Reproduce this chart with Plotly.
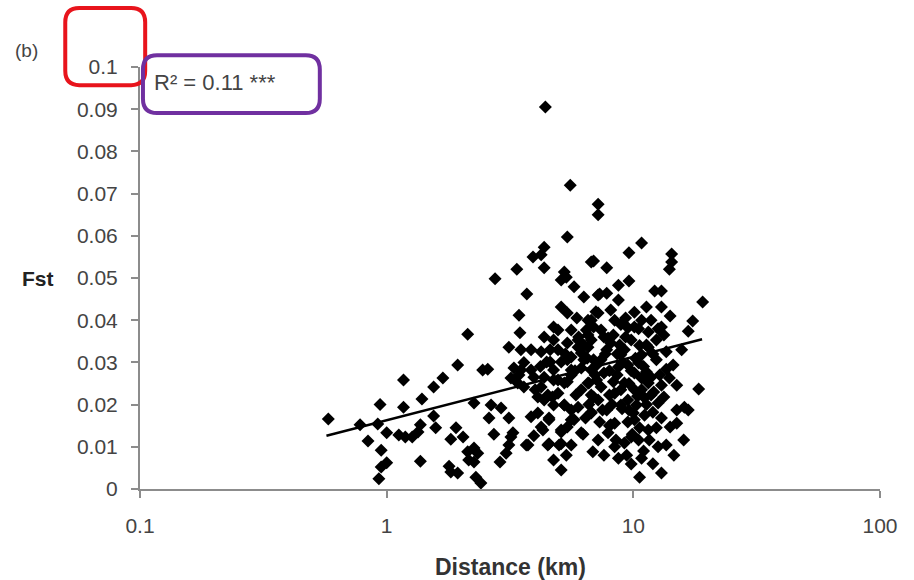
import numpy as np
import plotly.graph_objects as go

# Distance (km) and Fst values
distance_km = [
    0.58, 0.78, 0.94, 0.92, 0.84, 1.0, 0.95, 1.0, 0.95, 0.93,
    1.17, 1.17, 1.12, 1.19, 1.27, 1.34, 1.37, 1.39, 1.55, 1.69,
    1.94, 2.13, 1.55, 1.58, 1.37, 1.79, 1.82, 1.94, 1.91, 1.82,
    2.04, 2.13, 2.15,
    2.45, 2.57, 2.26, 2.65, 2.91, 2.6, 3.13, 2.72, 3.19, 3.13,
    2.26, 2.34, 2.26, 3.05, 2.88, 2.41, 2.3, 3.74, 3.95, 3.85,
    4.1, 4.5, 5.0, 5.6, 6.25, 5.1, 5.4, 5.75, 4.55, 4.3,
    3.44, 3.47, 3.7, 3.13, 3.5, 3.85, 4.23, 3.28, 3.5, 3.19,
    3.4, 3.95, 4.23, 4.1, 4.75, 5.25, 4.95, 5.25, 5.97, 6.75,
    5.1, 5.4, 6.3, 5.75, 7.2, 4.75, 4.95, 5.4, 5.6, 5.97,
    6.3, 6.75, 6.6, 6.15, 6.9, 5.6, 6.9, 6.75, 7.2,
    4.4, 5.55, 5.4, 4.35, 3.92, 4.23, 3.37, 4.35, 2.75, 5.25,
    5.1, 5.35, 6.75,
    7.2, 7.2, 10.8, 9.6, 6.9, 7.8, 14.3, 14.3, 14.0, 9.6,
    8.7, 7.3, 7.8, 8.7, 12.2, 13.0, 19.1, 11.3, 13.0, 14.1,
    17.4, 16.7, 7.05, 8.1, 8.4, 6.55, 10.8, 10.1, 9.5, 11.5,
    13.0, 13.3, 7.4, 6.55, 7.9,
    10.6, 13.0, 9.8, 8.7, 8.4, 12.6, 14.1, 15.0, 18.4, 15.0,
    16.1, 16.7, 13.6, 12.0, 12.6, 13.3, 11.1, 10.8, 11.5, 11.8,
    10.1, 9.5, 10.1, 10.6, 11.5, 9.8, 10.5, 7.9, 8.4, 7.8,
    6.75, 9.2, 8.9, 9.5, 8.4, 7.4, 7.2, 9.2, 6.55, 7.6,
    8.7, 6.9, 6.55, 9.2, 10.8, 11.5, 8.1,
    4.35, 4.75, 4.6, 5.4, 5.97, 6.15, 3.44, 3.85, 3.6, 4.0,
    4.35, 4.95, 5.4, 4.35, 4.7, 5.25, 4.55, 5.6, 5.1, 4.23,
    3.68, 4.55, 5.1, 6.15, 3.25,
    8.9, 9.5, 8.6, 10.5, 11.3, 12.4, 7.8, 7.1, 8.0, 10.3,
    11.8, 8.9, 9.6, 6.75, 5.85, 11.1, 13.0, 14.0, 14.5, 15.7,
    11.3, 9.8, 5.6, 6.45, 4.95, 4.5, 4.75, 4.45, 7.3, 8.1,
    7.2, 6.85, 7.6, 8.5, 9.4, 10.8, 11.6, 12.4, 13.6, 16.0,
    14.6,
    5.9, 6.3, 6.75, 7.4, 8.3, 8.8, 9.3, 10.1, 11.8, 12.4,
    13.6, 8.3, 10.1, 10.8, 7.5, 6.4, 5.6, 13.0, 15.0, 7.1,
    6.15, 5.6, 5.1, 4.75, 5.35, 4.75, 5.1,
    9.0, 9.8, 10.2, 8.6, 9.3, 10.6, 8.0, 7.7, 9.6, 10.4,
    11.0, 12.0, 12.8, 8.2, 9.0, 10.0, 11.3, 12.1, 7.0, 6.5,
    6.0, 5.8, 7.6, 8.9, 10.5, 12.6, 9.9, 11.0, 12.0, 8.0,
    6.6, 5.3, 4.2, 3.6, 4.6,
]
fst = [
    0.0166, 0.0152, 0.0200, 0.0154, 0.0114, 0.0133, 0.0092, 0.0062, 0.0052, 0.0024,
    0.0258, 0.0194, 0.0128, 0.0123, 0.0123, 0.0135, 0.0152, 0.0213, 0.0242, 0.0263,
    0.0294, 0.0367, 0.0173, 0.0145, 0.0066, 0.0054, 0.0040, 0.0038, 0.0145, 0.0118,
    0.0123, 0.0088, 0.0069,
    0.0282, 0.0284, 0.0204, 0.0199, 0.0192, 0.0168, 0.0168, 0.0130, 0.0123, 0.0104,
    0.0097, 0.0085, 0.0064, 0.0085, 0.0064, 0.0014, 0.0028, 0.0104, 0.0126, 0.0171,
    0.0180, 0.0104, 0.0104, 0.0104, 0.0130, 0.0135, 0.0147, 0.0164, 0.0164, 0.0140,
    0.0412, 0.0370, 0.0462, 0.0336, 0.0330, 0.0330, 0.0325, 0.0287, 0.0282, 0.0263,
    0.0251, 0.0265, 0.0242, 0.0218, 0.0258, 0.0251, 0.0227, 0.0199, 0.0194, 0.0180,
    0.0431, 0.0417, 0.0455, 0.0479, 0.0460, 0.0353, 0.0377, 0.0346, 0.0313, 0.0336,
    0.0306, 0.0282, 0.0251, 0.0235, 0.0218, 0.0282, 0.0384, 0.0400, 0.0417,
    0.0905, 0.0720, 0.0597, 0.0573, 0.0550, 0.0555, 0.0521, 0.0524, 0.0498, 0.0514,
    0.0495, 0.0502, 0.0538,
    0.0675, 0.0650, 0.0583, 0.0560, 0.0540, 0.0524, 0.0557, 0.0538, 0.0521, 0.0493,
    0.0483, 0.0462, 0.0464, 0.0448, 0.0469, 0.0469, 0.0443, 0.0431, 0.0431, 0.0410,
    0.0398, 0.0374, 0.0420, 0.0424, 0.0400, 0.0400, 0.0400, 0.0384, 0.0382, 0.0372,
    0.0384, 0.0365, 0.0377, 0.0365, 0.0358,
    0.0028, 0.0038, 0.0059, 0.0073, 0.0100, 0.0100, 0.0147, 0.0156, 0.0237, 0.0246,
    0.0194, 0.0187, 0.0284, 0.0182, 0.0204, 0.0218, 0.0216, 0.0235, 0.0251, 0.0265,
    0.0275, 0.0159, 0.0164, 0.0145, 0.0140, 0.0123, 0.0116, 0.0133, 0.0156, 0.0187,
    0.0182, 0.0109, 0.0199, 0.0211, 0.0227, 0.0242, 0.0211, 0.0251, 0.0251, 0.0275,
    0.0289, 0.0306, 0.0336, 0.0330, 0.0318, 0.0336, 0.0346,
    0.0360, 0.0384, 0.0301, 0.0306, 0.0353, 0.0322, 0.0270, 0.0282, 0.0242, 0.0235,
    0.0265, 0.0258, 0.0254, 0.0211, 0.0218, 0.0199, 0.0168, 0.0164, 0.0140, 0.0147,
    0.0104, 0.0107, 0.0107, 0.0133, 0.0133,
    0.0318, 0.0294, 0.0270, 0.0299, 0.0277, 0.0306, 0.0330, 0.0258, 0.0223, 0.0199,
    0.0223, 0.0235, 0.0187, 0.0223, 0.0223, 0.0175, 0.0246, 0.0263, 0.0294, 0.0330,
    0.0341, 0.0353, 0.0377, 0.0377, 0.0330, 0.0223, 0.0199, 0.0301, 0.0159, 0.0152,
    0.0116, 0.0088, 0.0080, 0.0116, 0.0080, 0.0073, 0.0116, 0.0145, 0.0104, 0.0116,
    0.0080,
    0.0405, 0.0341, 0.0353, 0.0306, 0.0365, 0.0341, 0.0405, 0.0419, 0.0400, 0.0353,
    0.0325, 0.0254, 0.0235, 0.0263, 0.0187, 0.0168, 0.0187, 0.0168, 0.0187, 0.0294,
    0.0287, 0.0270, 0.0301, 0.0282, 0.0080, 0.0069, 0.0045,
    0.0300, 0.0280, 0.0310, 0.0320, 0.0360, 0.0340, 0.0280, 0.0320, 0.0250, 0.0220,
    0.0290, 0.0320, 0.0270, 0.0200, 0.0190, 0.0180, 0.0200, 0.0230, 0.0270, 0.0310,
    0.0360, 0.0280, 0.0360, 0.0390, 0.0380, 0.0380, 0.0130, 0.0090, 0.0060, 0.0150,
    0.0200, 0.0320, 0.0290, 0.0300, 0.0330,
]

# Logarithmic trend line: Fst = a + b*log10(distance)
trend_intercept = 0.0163
trend_slope = 0.0150
trend_range_km = [0.57, 19.0]

y_ticks = [0, 0.01, 0.02, 0.03, 0.04, 0.05, 0.06, 0.07, 0.08, 0.09, 0.1]
y_tick_labels = ["0", "0.01", "0.02", "0.03", "0.04", "0.05", "0.06", "0.07", "0.08", "0.09", "0.1"]
x_ticks = [0.1, 1, 10, 100]
x_tick_labels = ["0.1", "1", "10", "100"]

tx = np.logspace(np.log10(trend_range_km[0]), np.log10(trend_range_km[1]), 60)
ty = trend_intercept + trend_slope * np.log10(tx)

fig = go.Figure()
fig.add_trace(go.Scatter(
    x=distance_km, y=fst, mode="markers",
    marker=dict(symbol="diamond", size=10, color="black"),
    showlegend=False, hoverinfo="skip"))
fig.add_trace(go.Scatter(
    x=tx, y=ty, mode="lines", line=dict(color="black", width=2.5),
    showlegend=False, hoverinfo="skip"))

font_family = "Liberation Sans, Arial, sans-serif"
tick_font = dict(family=font_family, size=21, color="#444444")
axis_col = "#8c8c8c"

fig.update_layout(
    width=914, height=580,
    margin=dict(l=140, r=34, t=67, b=91),
    paper_bgcolor="white", plot_bgcolor="white",
    font=dict(family=font_family),
    xaxis=dict(type="log", range=[-1, 2], tickvals=x_ticks, ticktext=x_tick_labels,
               showgrid=False, zeroline=False, showline=True, linecolor=axis_col,
               linewidth=2, ticks="outside", ticklen=7, tickcolor=axis_col, tickwidth=2,
               tickfont=tick_font, ticklabelstandoff=10),
    yaxis=dict(range=[0, 0.1], tickvals=y_ticks, ticktext=y_tick_labels,
               showgrid=False, zeroline=False, showline=True, linecolor=axis_col,
               linewidth=2, ticks="outside", ticklen=7, tickcolor=axis_col, tickwidth=2,
               tickfont=tick_font, ticklabelstandoff=9),
)

def rounded_rect(x0, y0, x1, y1, rx, ry):
    return (f"M {x0+rx},{y0} L {x1-rx},{y0} Q {x1},{y0} {x1},{y0+ry} "
            f"L {x1},{y1-ry} Q {x1},{y1} {x1-rx},{y1} L {x0+rx},{y1} "
            f"Q {x0},{y1} {x0},{y1-ry} L {x0},{y0+ry} Q {x0},{y0} {x0+rx},{y0} Z")

rx, ry = 0.019, 0.034
fig.add_shape(type="path", xref="paper", yref="paper",
              path=rounded_rect(-0.101, 0.957, 0.007, 1.140, rx, ry),
              line=dict(color="#e8141c", width=4))
fig.add_shape(type="path", xref="paper", yref="paper",
              path=rounded_rect(0.004, 0.891, 0.243, 1.028, rx, ry),
              line=dict(color="#7030a0", width=4))

fig.add_annotation(xref="paper", yref="paper", x=0.016, y=0.963, xanchor="left", yanchor="middle",
                   text="R² = 0.11 ***", showarrow=False,
                   font=dict(family=font_family, size=22, color="#444444"))
fig.add_annotation(xref="paper", yref="paper", x=-0.172, y=1.040, xanchor="left", yanchor="middle",
                   text="(b)", showarrow=False,
                   font=dict(family=font_family, size=19, color="#444444"))
fig.add_annotation(xref="paper", yref="paper", x=-0.138, y=0.500, xanchor="center", yanchor="middle",
                   text="<b>Fst</b>", showarrow=False,
                   font=dict(family=font_family, size=21, color="#222222"))
fig.add_annotation(xref="paper", yref="paper", x=0.5, y=-0.185, xanchor="center", yanchor="middle",
                   text="<b>Distance (km)</b>", showarrow=False,
                   font=dict(family=font_family, size=23, color="#333333"))

fig.write_html("out.html")
